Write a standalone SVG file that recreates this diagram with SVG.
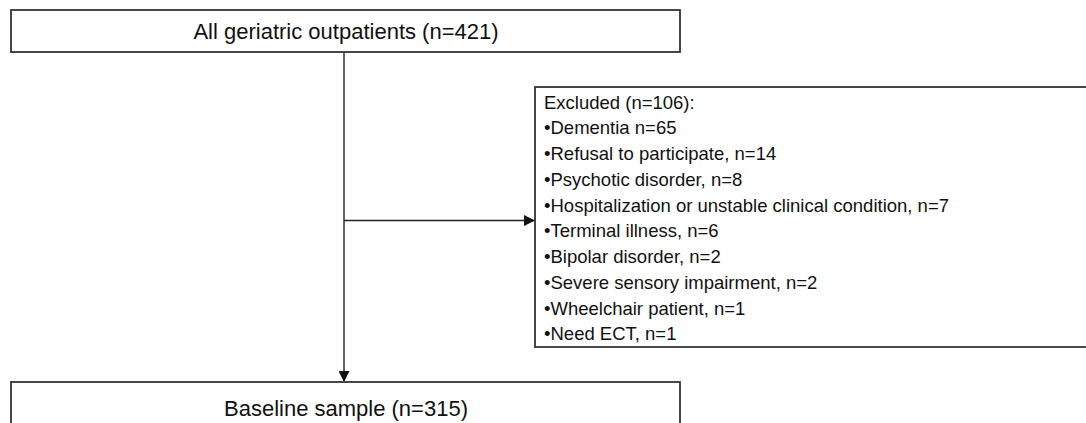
<svg xmlns="http://www.w3.org/2000/svg" width="1086" height="423" viewBox="0 0 1086 423">
  <defs>
    <style>
      .box { fill: #ffffff; stroke: #333333; stroke-width: 1.8; }
      .title { font-family: "Liberation Sans", Arial, sans-serif; font-size: 22px; fill: #111111; text-anchor: middle; dominant-baseline: central; }
      .item { font-family: "Liberation Sans", Arial, sans-serif; font-size: 18.5px; fill: #111111; dominant-baseline: central; }
      .conn { fill: none; stroke: #222222; stroke-width: 1.4; }
    </style>
    <marker id="arrow" markerWidth="11" markerHeight="11" refX="10" refY="5.5" orient="auto" markerUnits="userSpaceOnUse">
      <path d="M0,0 L11,5.5 L0,11 Z" fill="#111111"/>
    </marker>
  </defs>
  <rect width="1086" height="423" fill="#ffffff"/>

  <g id="connectors">
    <line class="conn" x1="344" y1="52" x2="344" y2="381" marker-end="url(#arrow)"/>
    <line class="conn" x1="344" y1="220.5" x2="534" y2="220.5" marker-end="url(#arrow)"/>
  </g>

  <g id="node-all">
    <rect class="box" x="11" y="10" width="669" height="42"/>
    <text class="title" x="346" y="31">All geriatric outpatients (n=421)</text>
  </g>

  <g id="node-excluded">
    <rect class="box" x="535" y="87" width="560" height="260"/>
    <text class="item" x="544" y="102">Excluded (n=106):</text>
    <text class="item" x="544" y="127.75">•Dementia n=65</text>
    <text class="item" x="544" y="153.5">•Refusal to participate, n=14</text>
    <text class="item" x="544" y="179.25">•Psychotic disorder, n=8</text>
    <text class="item" x="544" y="205">•Hospitalization or unstable clinical condition, n=7</text>
    <text class="item" x="544" y="230.75">•Terminal illness, n=6</text>
    <text class="item" x="544" y="256.5">•Bipolar disorder, n=2</text>
    <text class="item" x="544" y="282.25">•Severe sensory impairment, n=2</text>
    <text class="item" x="544" y="308">•Wheelchair patient, n=1</text>
    <text class="item" x="544" y="333.75">•Need ECT, n=1</text>
  </g>

  <g id="node-baseline">
    <rect class="box" x="11" y="382" width="669" height="50"/>
    <text class="title" x="346" y="408">Baseline sample (n=315)</text>
  </g>
</svg>
